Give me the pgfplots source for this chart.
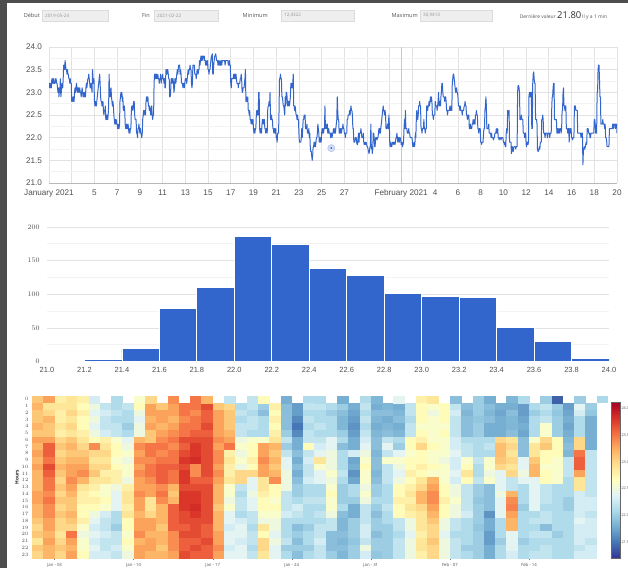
\documentclass[border=0pt]{standalone}
\usepackage{fontspec}
\setmainfont{Liberation Sans}
\newfontfamily\osans{Open Sans}
\usepackage{pgfplots}
\usepackage{pgfplotstable}
\pgfplotsset{compat=1.18}
\definecolor{gblue}{RGB}{51,102,204}
\definecolor{gridmaj}{RGB}{226,226,226}
\definecolor{gridmin}{RGB}{243,243,243}
\definecolor{tlab}{RGB}{80,80,80}
\definecolor{darkstrip}{RGB}{77,77,77}
\definecolor{fieldbg}{RGB}{238,238,238}
\definecolor{fieldbd}{RGB}{220,220,220}
\definecolor{labc}{RGB}{85,85,85}
\definecolor{valc}{RGB}{150,150,150}
\definecolor{lastcell}{RGB}{171,217,233}

\pgfplotstableread[row sep=\\]{
v\\
23.1\\23.2\\23.1\\23.1\\23.2\\23.1\\23.3\\23.2\\23.3\\23.2\\23.3\\23.2\\23.2\\23.2\\23.3\\23.3\\23.2\\23.2\\23.1\\23.0\\23.1\\22.9\\23.1\\23.0\\
23.3\\22.9\\23.0\\23.2\\23.1\\23.1\\23.3\\23.6\\23.6\\23.5\\23.7\\23.6\\23.5\\23.5\\23.4\\23.5\\23.4\\23.4\\23.3\\23.3\\23.2\\23.3\\23.2\\23.2\\
22.8\\22.9\\22.8\\22.8\\22.9\\22.8\\23.0\\23.1\\23.0\\23.1\\23.2\\23.1\\23.0\\23.1\\23.0\\23.1\\23.0\\23.1\\23.0\\23.0\\22.9\\23.0\\23.1\\23.0\\
22.9\\22.9\\23.0\\22.9\\23.0\\22.9\\23.1\\23.2\\23.1\\23.2\\23.3\\23.3\\23.4\\23.3\\23.2\\23.1\\23.1\\23.2\\23.1\\23.0\\23.5\\23.3\\23.2\\23.3\\
22.8\\22.7\\22.8\\22.7\\22.7\\22.8\\22.9\\23.0\\23.1\\23.2\\23.3\\23.4\\23.2\\22.9\\22.8\\22.8\\22.7\\22.7\\22.8\\22.6\\22.5\\22.6\\22.6\\22.7\\
22.4\\22.5\\22.4\\22.5\\22.4\\22.5\\22.7\\23.4\\23.0\\22.9\\23.0\\23.1\\22.9\\22.8\\22.7\\22.8\\22.7\\22.5\\22.4\\22.3\\22.4\\22.3\\22.4\\22.3\\
22.3\\22.2\\22.3\\22.2\\22.2\\22.3\\22.8\\22.9\\23.0\\22.9\\23.0\\22.8\\22.9\\22.6\\22.6\\22.7\\22.6\\22.3\\22.2\\22.2\\22.3\\22.2\\22.2\\22.3\\
22.2\\22.1\\22.2\\22.1\\22.2\\22.2\\22.6\\22.7\\22.7\\22.6\\22.7\\22.8\\22.8\\22.5\\22.4\\22.4\\22.4\\22.1\\22.1\\22.0\\22.2\\22.2\\22.3\\22.2\\
22.1\\22.2\\22.1\\22.1\\22.0\\22.1\\22.4\\22.5\\22.6\\22.5\\22.6\\22.6\\22.5\\22.8\\22.9\\22.9\\22.8\\22.9\\22.7\\22.7\\22.6\\22.7\\22.6\\22.5\\
22.6\\22.7\\22.5\\22.4\\22.5\\22.5\\23.2\\23.4\\23.3\\23.4\\23.3\\23.4\\23.3\\23.3\\23.4\\23.3\\23.3\\23.2\\23.3\\23.3\\23.4\\23.2\\23.3\\23.3\\
23.4\\23.3\\23.3\\23.2\\23.3\\23.1\\23.1\\23.5\\23.5\\23.4\\23.5\\23.5\\23.4\\23.3\\23.3\\22.9\\22.9\\23.0\\23.3\\23.3\\23.2\\23.3\\23.3\\23.2\\
23.0\\23.1\\23.3\\23.3\\23.2\\23.3\\23.4\\23.5\\23.4\\23.5\\23.6\\23.6\\23.6\\23.4\\23.5\\23.4\\23.2\\23.2\\23.2\\23.1\\23.2\\23.2\\23.1\\23.2\\
23.3\\23.3\\23.3\\23.2\\23.3\\23.4\\23.5\\23.4\\23.5\\23.5\\23.6\\23.5\\23.5\\23.2\\23.1\\23.2\\23.6\\23.6\\23.6\\23.6\\23.4\\23.4\\23.4\\23.3\\
23.4\\23.5\\23.5\\23.4\\23.5\\23.5\\23.7\\23.6\\23.7\\23.8\\23.7\\23.8\\23.8\\23.7\\23.8\\23.8\\23.8\\23.7\\23.7\\23.6\\23.7\\23.6\\23.6\\23.7\\
23.5\\23.5\\23.4\\23.5\\23.5\\23.6\\23.7\\23.8\\23.8\\23.85\\23.4\\23.4\\23.6\\23.7\\23.8\\23.8\\23.85\\23.8\\23.7\\23.7\\23.7\\23.6\\23.7\\23.6\\
23.6\\23.7\\23.6\\23.6\\23.7\\23.6\\23.7\\23.7\\23.7\\23.7\\23.7\\23.7\\23.6\\23.7\\23.7\\23.7\\23.7\\23.7\\23.7\\23.6\\23.6\\23.7\\23.6\\23.6\\
23.2\\23.1\\23.3\\23.3\\23.3\\23.3\\23.4\\23.3\\23.4\\23.4\\23.3\\23.4\\23.3\\23.2\\23.2\\23.2\\23.1\\23.2\\23.2\\23.2\\23.3\\23.3\\23.4\\23.3\\
23.0\\23.0\\23.1\\23.1\\23.1\\23.2\\23.3\\23.5\\22.8\\22.9\\22.8\\22.8\\22.9\\22.6\\22.6\\22.5\\22.6\\22.4\\22.4\\22.3\\22.4\\22.4\\22.3\\22.4\\
22.2\\22.1\\22.2\\22.1\\22.2\\22.2\\22.5\\22.6\\22.5\\22.6\\22.5\\23.0\\23.0\\22.2\\22.1\\22.2\\22.2\\22.1\\22.3\\22.4\\22.4\\22.3\\22.4\\22.4\\
22.2\\22.2\\22.1\\22.2\\22.2\\22.1\\22.6\\22.7\\22.7\\22.8\\22.7\\23.0\\22.4\\22.4\\22.5\\22.4\\22.4\\22.2\\22.2\\22.1\\22.2\\22.2\\22.1\\22.2\\
22.0\\22.0\\21.9\\22.1\\22.1\\22.1\\22.6\\23.3\\23.3\\23.4\\23.3\\23.3\\22.9\\22.9\\22.8\\22.7\\22.7\\22.6\\22.5\\22.9\\22.7\\23.0\\23.0\\22.9\\
22.7\\22.8\\22.7\\22.8\\22.7\\22.8\\22.9\\23.2\\23.1\\23.2\\23.1\\23.2\\23.4\\22.7\\22.7\\22.6\\22.7\\22.6\\22.5\\22.5\\22.4\\22.5\\22.4\\22.4\\
22.1\\21.9\\21.9\\21.9\\21.9\\22.0\\22.2\\22.0\\22.2\\22.4\\22.4\\22.5\\22.5\\22.5\\22.2\\22.2\\22.2\\22.3\\22.1\\22.1\\22.1\\22.2\\22.0\\22.1\\
21.8\\21.7\\21.7\\21.6\\21.5\\21.6\\21.8\\21.8\\21.9\\21.8\\21.9\\21.8\\21.9\\22.0\\22.0\\22.1\\22.3\\22.2\\22.1\\21.9\\22.0\\21.9\\22.0\\21.9\\
22.1\\22.2\\22.1\\22.2\\22.1\\22.2\\22.2\\22.7\\22.2\\22.3\\22.2\\22.2\\22.3\\22.1\\22.1\\22.2\\22.1\\22.1\\22.1\\22.0\\22.1\\22.1\\22.0\\22.1\\
22.1\\22.2\\22.1\\22.1\\22.2\\22.1\\22.2\\22.3\\22.4\\22.9\\22.6\\22.4\\22.4\\22.1\\22.1\\22.2\\22.1\\22.2\\22.1\\22.2\\22.2\\22.3\\22.2\\22.2\\
22.1\\22.1\\22.0\\22.1\\22.1\\22.1\\22.4\\22.4\\22.5\\22.5\\22.5\\22.6\\22.5\\22.6\\22.7\\22.6\\22.6\\22.5\\22.2\\22.2\\21.9\\21.9\\21.9\\22.0\\
22.0\\22.0\\21.9\\21.85\\21.85\\22.0\\22.1\\21.9\\22.1\\22.1\\22.1\\22.2\\22.1\\22.0\\22.0\\22.0\\22.1\\21.9\\21.85\\21.85\\21.9\\21.85\\21.9\\21.85\\
21.8\\21.8\\21.75\\21.7\\21.65\\21.7\\21.8\\21.8\\22.3\\21.75\\21.8\\21.65\\21.75\\22.1\\22.1\\22.0\\21.8\\21.8\\22.0\\22.0\\22.0\\21.95\\22.0\\22.0\\
22.1\\22.2\\22.1\\22.2\\22.1\\22.2\\22.3\\22.4\\22.5\\22.6\\22.7\\22.6\\22.6\\22.5\\22.6\\22.5\\22.2\\22.2\\22.2\\22.3\\22.3\\22.2\\22.5\\22.3\\
21.85\\21.8\\21.9\\21.85\\21.8\\21.85\\21.9\\21.9\\21.85\\21.9\\21.9\\21.85\\21.9\\22.0\\22.0\\22.1\\22.0\\21.9\\22.0\\22.0\\21.9\\22.0\\22.0\\21.95\\
21.85\\21.85\\21.9\\21.8\\21.85\\21.9\\22.2\\22.4\\22.2\\22.6\\22.2\\22.2\\22.2\\22.1\\22.1\\22.1\\22.2\\22.1\\22.1\\22.0\\22.0\\22.0\\22.0\\22.0\\
21.85\\21.8\\21.85\\21.9\\21.8\\21.85\\22.1\\22.0\\22.4\\22.6\\22.5\\22.4\\22.5\\22.7\\22.7\\22.8\\22.7\\22.7\\22.2\\22.2\\22.1\\22.2\\22.2\\22.2\\
22.4\\22.2\\22.2\\22.1\\22.2\\22.2\\22.7\\22.7\\22.6\\22.7\\22.7\\22.8\\22.7\\22.8\\22.9\\22.8\\22.9\\22.8\\22.5\\22.5\\22.4\\22.5\\22.5\\22.5\\
22.8\\22.7\\22.7\\22.7\\22.6\\22.7\\22.8\\23.0\\22.7\\22.7\\22.8\\22.7\\22.9\\23.0\\23.2\\23.2\\23.0\\22.9\\22.9\\22.9\\22.8\\22.9\\22.9\\22.8\\
22.6\\22.6\\22.5\\22.6\\22.6\\22.6\\22.6\\22.7\\22.6\\22.6\\22.7\\22.6\\23.2\\23.3\\23.4\\23.4\\23.3\\23.2\\23.1\\23.0\\23.0\\23.1\\23.0\\23.0\\
22.9\\22.7\\22.7\\22.7\\22.6\\22.7\\22.6\\22.6\\22.6\\22.5\\22.6\\22.6\\22.6\\22.7\\22.7\\22.8\\22.7\\22.7\\22.5\\22.5\\22.4\\22.5\\22.5\\22.5\\
22.2\\22.2\\22.3\\22.2\\22.2\\22.2\\22.3\\22.3\\22.4\\22.3\\22.3\\22.4\\22.3\\22.5\\22.5\\22.6\\22.5\\22.5\\22.2\\22.2\\22.1\\22.2\\22.2\\22.2\\
21.9\\21.9\\21.85\\21.9\\21.9\\21.9\\22.1\\22.2\\22.2\\22.6\\22.7\\22.9\\22.7\\22.2\\22.2\\22.2\\22.2\\22.3\\22.1\\22.1\\22.1\\22.1\\22.0\\22.1\\
22.0\\22.0\\22.0\\21.95\\22.0\\22.0\\22.1\\22.1\\22.1\\22.2\\22.1\\22.1\\22.2\\22.0\\22.0\\21.95\\22.0\\22.0\\22.0\\21.95\\22.0\\22.0\\22.0\\22.0\\
21.9\\21.9\\21.85\\21.9\\21.8\\21.8\\22.1\\22.2\\22.1\\22.6\\22.6\\22.5\\22.6\\21.9\\21.9\\21.9\\21.9\\21.65\\21.8\\21.8\\21.7\\21.7\\21.8\\21.8\\
21.8\\21.8\\21.75\\21.8\\21.8\\21.8\\23.0\\23.15\\23.15\\23.1\\23.0\\22.4\\22.4\\22.4\\22.5\\22.4\\22.4\\22.4\\22.1\\22.1\\22.1\\22.0\\22.1\\22.1\\
21.85\\21.8\\21.9\\21.85\\21.85\\21.9\\22.9\\23.0\\22.9\\23.0\\22.9\\23.0\\22.2\\22.2\\23.2\\23.4\\23.45\\23.3\\23.2\\23.2\\22.4\\22.4\\22.4\\22.3\\
21.75\\21.7\\21.7\\21.75\\21.8\\21.75\\21.9\\21.9\\21.9\\22.4\\22.4\\22.5\\22.4\\22.1\\22.1\\22.1\\22.0\\22.1\\22.1\\22.1\\22.1\\22.0\\22.1\\22.1\\
22.1\\22.1\\22.0\\22.1\\22.1\\22.1\\22.6\\22.9\\22.9\\23.1\\23.2\\23.2\\22.4\\22.4\\22.4\\22.4\\22.4\\22.1\\22.2\\22.1\\22.2\\22.1\\22.1\\22.2\\
22.2\\22.2\\22.1\\22.2\\22.6\\22.6\\23.0\\23.1\\22.7\\22.7\\22.6\\22.7\\22.7\\22.2\\22.2\\22.2\\22.1\\22.2\\22.2\\21.9\\22.2\\22.1\\22.2\\22.2\\
22.0\\22.0\\21.95\\22.0\\22.0\\22.0\\22.7\\22.7\\22.7\\22.6\\22.6\\22.6\\22.6\\22.1\\22.1\\22.1\\22.1\\22.1\\22.1\\22.1\\22.0\\22.1\\22.1\\22.1\\
21.4\\21.7\\21.75\\21.8\\21.75\\21.8\\21.85\\21.9\\21.85\\22.2\\22.2\\22.2\\22.1\\22.1\\22.1\\22.0\\22.0\\22.1\\22.1\\22.1\\22.1\\22.1\\22.1\\22.1\\
22.4\\22.4\\22.3\\22.1\\22.1\\22.1\\23.0\\23.0\\23.5\\23.6\\23.6\\23.3\\22.9\\22.9\\22.3\\22.3\\22.3\\22.3\\22.4\\22.3\\22.3\\22.3\\22.2\\22.3\\
22.0\\22.0\\21.95\\21.8\\21.8\\21.8\\21.8\\21.8\\22.2\\22.2\\22.2\\22.2\\22.2\\22.2\\22.2\\22.3\\22.3\\22.2\\22.3\\22.3\\22.3\\22.2\\22.3\\22.3\\
}\hdata

\tikzset{
  hl/.style={font=\osans\fontsize{5.6}{6.5}\selectfont, text=labc, inner sep=0pt},
  hv/.style={font=\osans\fontsize{4.6}{5.5}\selectfont, text=valc, inner sep=0pt, anchor=west},
  fld/.style={fill=fieldbg, draw=fieldbd, line width=0.4bp}
}

\begin{document}
\begin{tikzpicture}
\useasboundingbox (0,0) rectangle (628bp,-568bp);
\fill[white] (0,0) rectangle (628bp,-568bp);
\fill[darkstrip] (0,0) rectangle (7bp,-568bp);
\fill[darkstrip] (0,0) rectangle (628bp,-3bp);

% header
\node[hl, anchor=east] at (40bp,-15.5bp) {Début};
\filldraw[fld] (42bp,-10bp) rectangle (108bp,-21bp);
\node[hv] at (45bp,-15.5bp) {2019-05-24};
\node[hl, anchor=east] at (150bp,-15.5bp) {Fin};
\filldraw[fld] (154bp,-10bp) rectangle (218bp,-21bp);
\node[hv] at (157bp,-15.5bp) {2021-02-22};
\node[hl, anchor=east] at (268bp,-15.5bp) {Minimum};
\filldraw[fld] (281bp,-10bp) rectangle (354bp,-21bp);
\node[hv] at (284bp,-15.5bp) {12,4322};
\node[hl, anchor=east] at (418bp,-15.5bp) {Maximum};
\filldraw[fld] (420bp,-10bp) rectangle (492bp,-21bp);
\node[hv] at (423bp,-15.5bp) {30,9413};
\node[font=\osans\fontsize{5}{6}\selectfont, text=labc, inner sep=0pt, anchor=base east] at (556bp,-18bp) {Dernière valeur};
\node[font=\osans\fontsize{9.5}{10}\selectfont, text=black!80, inner sep=0pt, anchor=base west] at (557bp,-18bp) {21.80};
\node[font=\osans\fontsize{5}{6}\selectfont, text=labc, inner sep=0pt, anchor=base west] at (582bp,-18bp) {Il y a 1 min};

% line chart
\begin{axis}[
  at={(49bp,-47bp)}, anchor=north west, scale only axis,
  width=568bp, height=136bp,
  xmin=0, xmax=50, ymin=21, ymax=24,
  axis line style={draw=none}, tick style={draw=none},
  xtick={0,2,...,50},
  xticklabels={{January 2021},{},5,7,9,11,13,15,17,19,21,23,25,27,{},{},{},4,6,8,10,12,14,16,18,20},
  extra x ticks={31}, extra x tick labels={February 2021},
  extra x tick style={grid=major, major grid style={draw=black!22, line width=1bp}},
  ytick={21,21.5,22,22.5,23,23.5,24},
  yticklabels={21.0,21.5,22.0,22.5,23.0,23.5,24.0},
  minor ytick={21.25,21.75,22.25,22.75,23.25,23.75},
  extra y ticks={21}, extra y tick labels={},
  extra y tick style={grid=major, major grid style={draw=black!28, line width=0.8bp}},
  grid=both,
  major grid style={draw=gridmaj, line width=0.7bp},
  minor grid style={draw=gridmin, line width=0.7bp},
  xticklabel style={font=\fontsize{8.2}{10}\selectfont, text=tlab, yshift=-3bp},
  yticklabel style={font=\fontsize{8.2}{10}\selectfont, text=tlab, xshift=-3.5bp},
]
\addplot[gblue, line width=1bp, line join=round] table[x expr=\coordindex/24, y=v]{\hdata};
\addplot[gblue, line width=1bp] coordinates {(49.9583,22.3) (50,22.1)};
\addplot[only marks, mark=*, mark size=3.6bp, mark options={fill=gblue!22, draw=gblue!45, line width=0.4bp}] coordinates {(24.85,21.77)};
\addplot[only marks, mark=*, mark size=1.7bp, mark options={fill=gblue, draw=white, line width=0.4bp}] coordinates {(24.85,21.77)};
\end{axis}

% histogram
\begin{axis}[
  at={(47bp,-227bp)}, anchor=north west, scale only axis,
  width=562bp, height=134.5bp,
  xmin=21, xmax=24, ymin=0, ymax=200,
  axis line style={draw=none}, tick style={draw=none},
  xtick={21,21.2,21.4,21.6,21.8,22,22.2,22.4,22.6,22.8,23,23.2,23.4,23.6,23.8,24},
  xticklabels={21.0,21.2,21.4,21.6,21.8,22.0,22.2,22.4,22.6,22.8,23.0,23.2,23.4,23.6,23.8,24.0},
  ytick={0,50,100,150,200},
  minor ytick={25,75,125,175},
  extra y ticks={0}, extra y tick labels={},
  extra y tick style={grid=major, major grid style={draw=black!30, line width=0.8bp}},
  ymajorgrids, yminorgrids,
  major grid style={draw=gridmaj, line width=0.7bp},
  minor grid style={draw=gridmin, line width=0.7bp},
  xticklabel style={font=\fontsize{7.5}{9}\selectfont, text=tlab, yshift=-2.5bp},
  yticklabel style={font=\fontsize{7.5}{9}\selectfont, text=tlab, xshift=-4bp},
]
\addplot[ybar interval, fill=gblue, draw=white, line width=0.8bp] coordinates {
(21.0,1) (21.2,3) (21.4,19) (21.6,79) (21.8,110) (22.0,186) (22.2,174) (22.4,138)
(22.6,128) (22.8,101) (23.0,97) (23.2,95) (23.4,51) (23.6,30) (23.8,4) (24.0,4)};
\end{axis}

% heatmap
\begin{axis}[
  at={(32bp,-396bp)}, anchor=north west, scale only axis,
  width=576bp, height=162bp,
  xmin=-0.5, xmax=50.5, ymin=-0.5, ymax=23.5, y dir=reverse,
  axis line style={draw=none},
  xtick={1.5,8.5,15.5,22.5,29.5,36.5,43.5},
  xticklabels={Jan - 03,Jan - 10,Jan - 17,Jan - 24,Jan - 31,Feb - 07,Feb - 14},
  ytick={0,1,...,23},
  x tick style={draw=black!55, line width=0.3bp}, y tick style={draw=none},
  xtick align=outside, xtick pos=left, major tick length=2bp,
  ticklabel style={font=\osans\fontsize{4.3}{5}\selectfont, text=tlab},
  ylabel={Hours},
  ylabel style={font=\osans\bfseries\fontsize{4.8}{5}\selectfont, text=black!85, at={(axis description cs:-0.026,0.5)}, anchor=center},
  colormap={rdylbu}{rgb255=(49,54,149) rgb255=(69,117,180) rgb255=(116,173,209) rgb255=(171,217,233) rgb255=(224,243,248) rgb255=(255,255,191) rgb255=(254,224,144) rgb255=(253,174,97) rgb255=(244,109,67) rgb255=(215,48,39) rgb255=(165,0,38)},
  point meta min=21.2, point meta max=24.12,
  colorbar,
  colorbar style={
    at={(parent axis.south east)}, anchor=south west, xshift=-5bp,
    scale only axis, width=9bp, height=156bp,
    ytick={21.5,22,22.5,23,23.5,24},
    yticklabels={21.5,22.0,22.5,23.0,23.5,24.0},
    yticklabel style={font=\osans\fontsize{3.8}{5}\selectfont, text=tlab, xshift=-2.5bp},
    axis line style={draw=black!60, line width=0.3bp},
    tick style={draw=none}},
]
\addplot[scatter, only marks, mark=square*, mark size=3.25bp,
  mark options={xscale=1.6732, line width=0.25bp},
  scatter/use mapped color={draw=mapped color, fill=mapped color},
  point meta=\thisrow{v}]
  table[x=v, y=v, x expr={floor(\coordindex/24)}, y expr={mod(\coordindex,24)}]{\hdata};
\addplot[fill=black, draw=none] coordinates {(19.5,10.5) (20.5,10.5) (20.5,11.5) (19.5,11.5)};
\addplot[fill=lastcell, draw=none] coordinates {(49.5,-0.5) (50.5,-0.5) (50.5,0.5) (49.5,0.5)};
\end{axis}
\end{tikzpicture}
\end{document}
